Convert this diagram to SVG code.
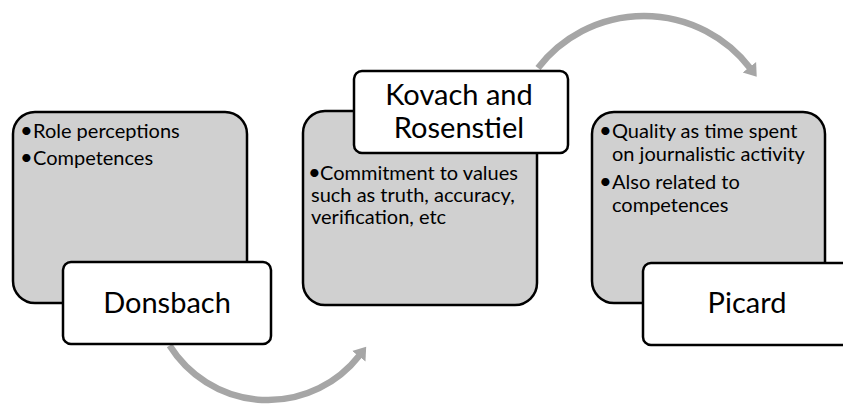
<svg xmlns="http://www.w3.org/2000/svg" width="843" height="406" viewBox="0 0 843 406">
<defs>
<style>
.card{fill:#d0d0d0;stroke:#000;stroke-width:2.5}
.lab{fill:#fff;stroke:#000;stroke-width:2.5}
.body{font-family:Lato,"Open Sans","Liberation Sans",sans-serif;font-size:20px;fill:#000}
.bul{font-family:Lato,"Open Sans","Liberation Sans",sans-serif;font-size:22px;fill:#000}
.title{font-family:Lato,"Open Sans","Liberation Sans",sans-serif;font-size:29px;fill:#000;text-anchor:middle}
.arc{fill:none;stroke:#a6a6a6;stroke-width:6.5}
</style>
<marker id="ah" markerUnits="userSpaceOnUse" markerWidth="14" markerHeight="20" viewBox="0 -10 14 20" refX="1" refY="0" orient="auto">
<path d="M0,-8.5 L12,0 L0,8.5 Z" fill="#a6a6a6"/>
</marker>
</defs>
<g id="connectors">
<path class="arc" d="M169.6,345.5 A116,116 0 0 0 359.4,355.5" marker-end="url(#ah)"/>
<path class="arc" d="M538,68 A134,134 0 0 1 750,68" marker-end="url(#ah)"/>
</g>
<g id="donsbach-card">
<rect class="card" x="13" y="112" width="234" height="191" rx="22"/>
<text class="bul" x="20" y="138">•</text><text class="body" x="33" y="138">Role perceptions</text>
<text class="bul" x="20" y="165">•</text><text class="body" x="33" y="165">Competences</text>
</g>
<g id="donsbach">
<rect class="lab" x="63" y="262" width="208" height="82" rx="8"/>
<text class="title" x="167" y="313">Donsbach</text>
</g>
<g id="kovach-card">
<rect class="card" x="303" y="111" width="234" height="194" rx="22"/>
<text class="bul" x="308" y="180">•</text><text class="body" x="320" y="180">Commitment to values</text>
<text class="body" x="311" y="202">such as truth, accuracy,</text>
<text class="body" x="311" y="224">verification, etc</text>
</g>
<g id="kovach">
<rect class="lab" x="354" y="71" width="214" height="82" rx="8"/>
<text class="title" x="459" y="105">Kovach and</text>
<text class="title" x="459" y="138">Rosenstiel</text>
</g>
<g id="picard-card">
<rect class="card" x="592" y="112" width="233" height="191" rx="22"/>
<text class="bul" x="599" y="138">•</text><text class="body" x="612" y="138">Quality as time spent</text>
<text class="body" x="612" y="161">on journalistic activity</text>
<text class="bul" x="599" y="189">•</text><text class="body" x="612" y="189">Also related to</text>
<text class="body" x="612" y="212">competences</text>
</g>
<g id="picard">
<rect class="lab" x="643" y="263" width="208" height="82" rx="8"/>
<text class="title" x="747" y="313">Picard</text>
</g>
</svg>
